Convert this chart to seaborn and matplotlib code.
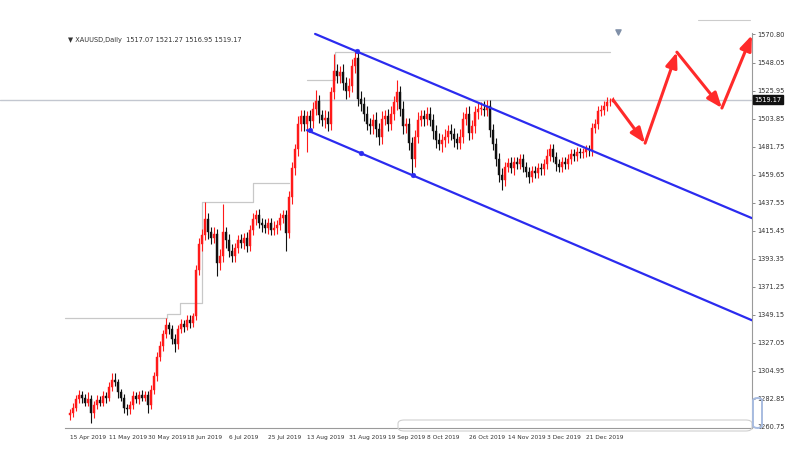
import numpy as np
import pandas as pd
import matplotlib.pyplot as plt
import seaborn as sns
from matplotlib.lines import Line2D
from matplotlib.patches import FancyBboxPatch

# daily closes (15 Apr 2019 .. end Dec 2019)
closes = [1272, 1276, 1283, 1286, 1284, 1280, 1283, 1272, 1278, 1282,
          1280, 1285, 1284, 1292, 1298, 1296, 1288, 1284, 1276, 1275,
          1278, 1285, 1283, 1286, 1284, 1286, 1278, 1290, 1301, 1316,
          1325, 1334, 1341, 1338, 1330, 1326, 1338, 1342, 1340, 1345,
          1343, 1348, 1385, 1405, 1412, 1425, 1415, 1410, 1413, 1390,
          1396, 1415, 1408, 1400, 1396, 1402, 1408, 1406, 1410, 1404,
          1416, 1425, 1428, 1422, 1420, 1418, 1422, 1416, 1418, 1420,
          1426, 1428, 1414, 1442, 1465, 1480, 1500, 1506, 1500, 1506,
          1502, 1512, 1518, 1507, 1503, 1505, 1500, 1525, 1542, 1538,
          1541, 1532, 1526, 1530, 1546, 1552, 1520, 1516, 1508, 1500,
          1498, 1503, 1496, 1490, 1504, 1506, 1500, 1508, 1517, 1525,
          1512, 1498, 1500, 1485, 1472, 1490, 1503, 1506, 1504, 1508,
          1503, 1494, 1487, 1484, 1487, 1490, 1494, 1492, 1488, 1485,
          1490, 1504, 1508, 1493, 1498, 1509, 1512, 1512, 1511, 1514,
          1495, 1484, 1472, 1460, 1456, 1466, 1469, 1465, 1470, 1468,
          1472, 1466, 1462, 1458, 1463, 1461, 1465, 1464, 1468, 1475,
          1480, 1474, 1468, 1466, 1470, 1468, 1472, 1476, 1475, 1478,
          1477, 1478, 1480, 1479, 1497, 1500, 1510, 1511, 1514, 1517,
          1517.07, 1519.17]
first_open = 1270.0

upper_wick = [3, 4, 3, 4, 3, 3, 5, 3, 3, 4,
              3, 4, 3, 4, 5, 5, 3, 3, 3, 3,
              3, 4, 3, 3, 4, 3, 3, 4, 3, 4,
              4, 3, 6, 3, 3, 4, 3, 4, 3, 4,
              4, 3, 4, 5, 5, 13, 5, 4, 6, 4,
              5, 22, 4, 5, 5, 4, 4, 5, 4, 5,
              4, 5, 4, 5, 4, 5, 4, 4, 5, 4,
              4, 4, 4, 5, 5, 4, 6, 5, 5, 4,
              5, 5, 9, 5, 4, 6, 5, 4, 13, 5,
              5, 6, 5, 6, 5, 5, 5, 6, 5, 6,
              5, 5, 6, 5, 6, 5, 6, 6, 5, 10,
              5, 6, 5, 5, 5, 5, 6, 5, 5, 5,
              5, 5, 5, 6, 5, 6, 5, 6, 5, 5,
              6, 5, 5, 6, 5, 5, 5, 5, 6, 5,
              5, 5, 5, 5, 5, 4, 4, 5, 4, 4,
              4, 4, 4, 4, 4, 4, 4, 4, 4, 5,
              4, 4, 4, 4, 4, 4, 4, 4, 4, 4,
              3, 3, 3, 3, 4, 4, 4, 4, 4, 4,
              3, 2.1]
lower_wick = [4, 3, 3, 3, 4, 3, 3, 8, 4, 3,
              3, 3, 4, 3, 3, 3, 4, 3, 4, 5,
              4, 3, 3, 4, 3, 3, 6, 3, 3, 4,
              3, 4, 3, 4, 4, 6, 4, 3, 4, 3,
              4, 3, 3, 4, 5, 4, 6, 5, 4, 10,
              5, 5, 6, 5, 5, 5, 4, 4, 5, 5,
              4, 4, 5, 4, 5, 4, 5, 4, 4, 5,
              4, 4, 14, 4, 5, 5, 5, 6, 6, 22,
              5, 5, 5, 6, 5, 6, 6, 5, 5, 6,
              6, 5, 6, 5, 5, 6, 6, 6, 6, 5,
              6, 6, 6, 7, 6, 5, 6, 5, 5, 6,
              6, 6, 5, 6, 12, 6, 5, 5, 6, 5,
              5, 6, 6, 5, 6, 5, 5, 5, 6, 5,
              5, 5, 5, 6, 5, 5, 5, 5, 5, 5,
              5, 5, 5, 6, 8, 5, 4, 4, 5, 4,
              4, 4, 4, 5, 4, 4, 4, 4, 4, 4,
              4, 4, 5, 4, 4, 4, 4, 4, 4, 4,
              4, 4, 4, 4, 4, 4, 4, 4, 4, 4,
              3, 0.12]

date_ticks = [0, 13, 26, 39, 53, 66, 79, 93, 106, 119, 133, 146, 159, 172]
date_labels = ['15 Apr 2019', '11 May 2019', '30 May 2019', '18 Jun 2019', '6 Jul 2019',
               '25 Jul 2019', '13 Aug 2019', '31 Aug 2019', '19 Sep 2019', '8 Oct 2019',
               '26 Oct 2019', '14 Nov 2019', '3 Dec 2019', '21 Dec 2019']
price_ticks = [1260.75, 1282.85, 1304.95, 1327.05, 1349.15, 1371.25, 1393.35, 1415.45,
               1437.55, 1459.65, 1481.75, 1503.85, 1525.95, 1548.05, 1570.80]
price_labels = ['1260.75', '1282.85', '1304.95', '1327.05', '1349.15', '1371.25', '1393.35',
                '1415.45', '1437.55', '1459.65', '1481.75', '1503.85', '1525.95', '1548.05',
                '1570.80']
last_price = 1519.17

# regression channel drawn on the chart
upper_x = [81.7, 227.3]
upper_y = [1571.0, 1425.6]
lower_x = [79.0, 227.3]
lower_y = [1495.0, 1345.0]
anchor_x = [95.7, 80.0, 97.0, 114.3]
anchor_y = [1557.4, 1495.0, 1476.8, 1459.3]

# forecast zigzag
path_x = [181, 191.7, 202.3, 217.3, 227.3]
path_y = [1519.0, 1484.8, 1556.6, 1512.5, 1570.0]

# stepped high levels
step_x1 = [-1.7, 32.3, 36.7, 44.0, 61.0, 73.0]
step_y1 = [1346.8, 1350.0, 1358.6, 1438.3, 1453.3, 1453.3]
step_x2 = [79.0, 88.3, 180.0]
step_y2 = [1534.5, 1556.5, 1556.5]

df = pd.DataFrame({'close': closes})
df['open'] = [first_open] + closes[:-1]
df['high'] = df[['open', 'close']].max(axis=1) + upper_wick
df['low'] = df[['open', 'close']].min(axis=1) - lower_wick
df['idx'] = np.arange(len(df))
df['bull'] = df['close'] >= df['open']

sns.set_style('white')
plt.rcParams['font.family'] = ['DejaVu Sans']

fig = plt.figure(figsize=(8, 4.51), dpi=100)
ax = fig.add_axes([0, 23 / 451, 752 / 800, 428 / 451])

px = 28 / 22.1
ax.set_xlim((0 - 70) / 3, (752 - 70) / 3)
ylo = 1260.75 - 1 / px
ax.set_ylim(ylo, ylo + 428 / px)

red = '#ff1a1a'
colors = np.where(df['bull'], red, '#111111')

ax.axhline(last_price, color='#c3c7d0', lw=1.0, zorder=1)
ax.step(step_x1, step_y1, where='post', color='#c8c8c8', lw=0.9, zorder=1)
ax.step(step_x2, step_y2, where='post', color='#c8c8c8', lw=0.9, zorder=1)

ax.vlines(df['idx'], df['low'], df['high'], colors=colors, lw=0.8, zorder=2)
body_h = (df['close'] - df['open']).abs().clip(lower=0.6)
ax.bar(df['idx'], body_h, bottom=df[['open', 'close']].min(axis=1), width=0.75,
       color=colors, edgecolor=colors, lw=0.3, zorder=3)

sns.lineplot(x=upper_x, y=upper_y, ax=ax, color='#2b2bef', lw=1.6, zorder=4)
sns.lineplot(x=lower_x, y=lower_y, ax=ax, color='#2b2bef', lw=1.6, zorder=4)
sns.scatterplot(x=anchor_x, y=anchor_y, ax=ax, color='#2b2bef', s=12, edgecolor='#2b2bef', zorder=5)

for i in range(len(path_x) - 1):
    ax.annotate('', xy=(path_x[i + 1], path_y[i + 1]), xytext=(path_x[i], path_y[i]),
                arrowprops=dict(arrowstyle='-|>,head_length=0.9,head_width=0.35',
                                color='#ff2a2a', lw=2.2, shrinkA=0, shrinkB=0), zorder=6)

ax.scatter([182.7], [1572.5], marker='v', s=14, color='#8090a8', zorder=5)

# axes styling (MT4 look)
for s in ['top', 'left']:
    ax.spines[s].set_visible(False)
ax.spines['right'].set_color('#9a9a9a')
ax.spines['bottom'].set_color('#9a9a9a')
ax.spines['right'].set_bounds(ylo, 1571.5)
ax.spines['bottom'].set_bounds(-1.7, (752 - 70) / 3)
ax.yaxis.tick_right()
ax.set_yticks(price_ticks)
ax.set_yticklabels(price_labels, fontsize=4.8, color='#333333')
ax.set_xticks(date_ticks)
ax.set_xticklabels(date_labels, fontsize=4.2, color='#333333', ha='left')
ax.tick_params(axis='y', length=2, width=0.6, color='#777777', pad=2)
ax.tick_params(axis='x', length=3, width=0.6, color='#777777', pad=2)
ax.set_xlabel('')
ax.set_ylabel('')

ax.text(1.003, last_price, '1519.17', transform=ax.get_yaxis_transform(), fontsize=4.8,
        color='white', va='center', ha='left',
        bbox=dict(boxstyle='square,pad=0.25', fc='#111111', ec='#111111'))

fig.text(68 / 800, 1 - 40 / 451, '\u25bc XAUUSD,Daily  1517.07 1521.27 1516.95 1519.17',
         fontsize=4.8, color='#333333', va='center')

fig.add_artist(Line2D([698 / 800, 750 / 800], [1 - 20 / 451, 1 - 20 / 451],
                      color='#cccccc', lw=0.8))
fig.add_artist(FancyBboxPatch((398 / 800, 1 - 431 / 451), 354 / 800, 11 / 451,
                              boxstyle='round,pad=0,rounding_size=0.008',
                              fc='none', ec='#cfcfcf', lw=0.8))
fig.add_artist(FancyBboxPatch((753 / 800, 1 - 428 / 451), 9 / 800, 30 / 451,
                              boxstyle='round,pad=0,rounding_size=0.006',
                              fc='none', ec='#a8bce0', lw=1.4))

fig.savefig('out.png', dpi=100)
